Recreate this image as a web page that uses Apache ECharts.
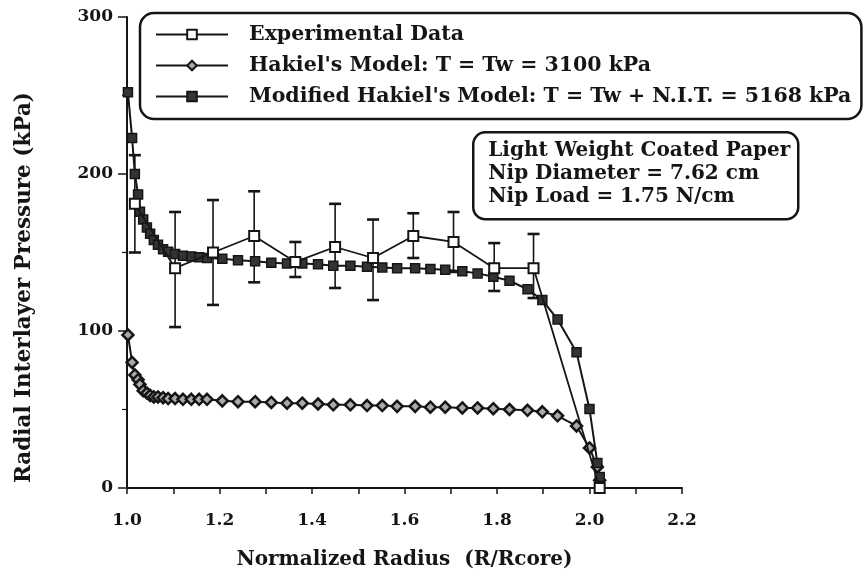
<!DOCTYPE html>
<html>
<head>
<meta charset="utf-8">
<script src="https://cdn.jsdelivr.net/npm/echarts@6/dist/echarts.min.js"></script>
<style>
  html, body { margin: 0; padding: 0; background: #fff; }
  #myChart { width: 863px; height: 580px; }
</style>
</head>
<body>
<div id="myChart"></div>
<script>
// radii at which both models were evaluated
const radius = [1.002, 1.011, 1.017, 1.024, 1.028, 1.035, 1.043, 1.050, 1.058, 1.067,
  1.078, 1.089, 1.104, 1.121, 1.139, 1.156, 1.173, 1.206, 1.240, 1.277,
  1.312, 1.346, 1.379, 1.413, 1.446, 1.483, 1.519, 1.552, 1.584, 1.623,
  1.656, 1.688, 1.725, 1.758, 1.792, 1.827, 1.866, 1.898, 1.931, 1.972,
  2.000, 2.017, 2.022]
// Hakiel's model, T = Tw = 3100 kPa
const hakielModel = [97.5, 80, 72, 69, 66, 62, 60.5, 59, 58, 58,
  57.5, 57, 57, 56.5, 56.5, 56.5, 56.5, 55.5, 55, 55,
  54.5, 54, 54, 53.5, 53, 53, 52.5, 52.5, 52, 52,
  51.5, 51.5, 51, 51, 50.5, 50, 49.5, 48.5, 46, 39.5,
  25.5, 13.4, 5]
// modified Hakiel's model, T = Tw + N.I.T. = 5168 kPa
const modifiedModel = [252, 223, 200, 187, 176, 171, 166, 162, 158, 155,
  152, 150.5, 149, 148, 147.5, 147, 146.5, 146, 145, 144.5,
  143.5, 143, 143, 142.5, 141.5, 141.5, 141, 140.5, 140, 140,
  139.5, 139, 138, 136.7, 134.6, 132, 126.6, 119.7, 107.4, 86.4,
  50.3, 16, 7]
// experimental data with error bars
const expRadius = [1.017, 1.104, 1.186, 1.275, 1.364, 1.450, 1.532, 1.619, 1.706, 1.794, 1.879, 2.022]
const expPressure = [181, 140, 150, 160.5, 144, 153.5, 146.5, 160.5, 156.7, 140, 140, 0]
const expLow = [150, 102.5, 116.6, 131, 134.4, 127.4, 119.7, 146.5, 137.6, 125.5, 121, null]
const expHigh = [212, 175.8, 183.4, 189, 156.7, 181, 171, 175, 175.8, 156, 161.8, null]

const seriesNames = ['Experimental Data', "Hakiel's Model: T = Tw = 3100 kPa", "Modified Hakiel's Model: T = Tw + N.I.T. = 5168 kPa"]
const infoLines = ['Light Weight Coated Paper', 'Nip Diameter = 7.62 cm', 'Nip Load = 1.75 N/cm']

const ink = '#151515'
const serif = 'DejaVu Serif'

function pairs (xs, ys) {
  return xs.map((x, i) => [x, ys[i]])
}

const errData = []
expRadius.forEach((r, i) => {
  if (expLow[i] !== null) errData.push([r, expLow[i], expHigh[i]])
})

function renderErrorBar (params, api) {
  const x = api.value(0)
  const lo = api.coord([x, api.value(1)])
  const hi = api.coord([x, api.value(2)])
  const w = 6
  const style = { stroke: ink, lineWidth: 1.6 }
  const capStyle = { stroke: ink, lineWidth: 2.6 }
  return {
    type: 'group',
    children: [
      { type: 'line', shape: { x1: lo[0], y1: lo[1], x2: hi[0], y2: hi[1] }, style: style },
      { type: 'line', shape: { x1: hi[0] - w, y1: hi[1], x2: hi[0] + w, y2: hi[1] }, style: capStyle },
      { type: 'line', shape: { x1: lo[0] - w, y1: lo[1], x2: lo[0] + w, y2: lo[1] }, style: capStyle }
    ]
  }
}

let myChart = echarts.init(document.getElementById('myChart'))
myChart.setOption({
  backgroundColor: '#fff',
  animation: false,
  grid: { left: 127, right: 181, top: 17, bottom: 92 },
  legend: {
    data: seriesNames,
    orient: 'vertical',
    left: 140,
    top: 13,
    padding: [11, 10, 12, 15],
    itemWidth: 72,
    itemHeight: 12,
    itemGap: 10,
    borderColor: ink,
    borderWidth: 2.5,
    borderRadius: 14,
    backgroundColor: '#fff',
    textStyle: { fontFamily: serif, fontWeight: 'bold', fontSize: 20.5, color: ink, padding: [0, 0, 0, 16] }
  },
  xAxis: {
    type: 'value',
    min: 1.0,
    max: 2.2,
    interval: 0.2,
    axisLine: { onZero: false, lineStyle: { color: ink, width: 2 } },
    axisTick: { length: 6, lineStyle: { color: ink, width: 1.5 } },
    minorTick: { show: true, splitNumber: 2, length: 6, lineStyle: { color: ink, width: 1.5 } },
    splitLine: { show: false },
    axisLabel: {
      margin: 24,
      fontFamily: serif,
      fontWeight: 'bold',
      fontSize: 17,
      color: ink,
      formatter: v => v.toFixed(1)
    },
    name: 'Normalized Radius  (R/Rcore)',
    nameLocation: 'middle',
    nameGap: 62,
    nameTextStyle: { fontFamily: serif, fontWeight: 'bold', fontSize: 20, color: ink }
  },
  yAxis: {
    type: 'value',
    min: 0,
    max: 300,
    interval: 100,
    axisLine: { show: true, lineStyle: { color: ink, width: 2 } },
    axisTick: { show: true, length: 9, lineStyle: { color: ink, width: 1.5 } },
    minorTick: { show: true, splitNumber: 2, length: 5, lineStyle: { color: ink, width: 1.2 } },
    splitLine: { show: false },
    axisLabel: { margin: 14, fontFamily: serif, fontWeight: 'bold', fontSize: 17, color: ink },
    name: 'Radial Interlayer Pressure (kPa)',
    nameLocation: 'middle',
    nameGap: 92,
    nameTextStyle: { fontFamily: serif, fontWeight: 'bold', fontSize: 21.5, color: ink, padding: [0, 70, 0, 0] }
  },
  graphic: [{
    type: 'group',
    left: 472,
    top: 131,
    children: [
      { type: 'rect', shape: { x: 0, y: 0, width: 325, height: 87, r: 12 }, style: { fill: '#fff', stroke: ink, lineWidth: 2.5 } },
      { type: 'text', x: 15, y: 7, style: { text: infoLines.join('\n'), font: 'bold 20px "DejaVu Serif"', lineHeight: 23, fill: ink } }
    ]
  }],
  series: [
    {
      name: seriesNames[0],
      type: 'line',
      data: pairs(expRadius, expPressure),
      symbol: 'emptyRect',
      symbolSize: 10,
      lineStyle: { color: ink, width: 1.8 },
      itemStyle: { color: ink, borderWidth: 1.8 },
      z: 4
    },
    {
      name: seriesNames[1],
      type: 'line',
      data: pairs(radius, hakielModel),
      symbol: 'diamond',
      symbolSize: 11,
      lineStyle: { color: ink, width: 2 },
      itemStyle: { color: '#aaa', borderColor: ink, borderWidth: 2.5 },
      z: 3
    },
    {
      name: seriesNames[2],
      type: 'line',
      data: pairs(radius, modifiedModel),
      symbol: 'rect',
      symbolSize: 9,
      lineStyle: { color: ink, width: 2 },
      itemStyle: { color: '#333', borderColor: ink, borderWidth: 1.5 },
      z: 3
    },
    {
      name: 'errors',
      type: 'custom',
      renderItem: renderErrorBar,
      data: errData,
      encode: { x: 0, y: [1, 2] },
      z: 2
    }
  ]
})
</script>
</body>
</html>
